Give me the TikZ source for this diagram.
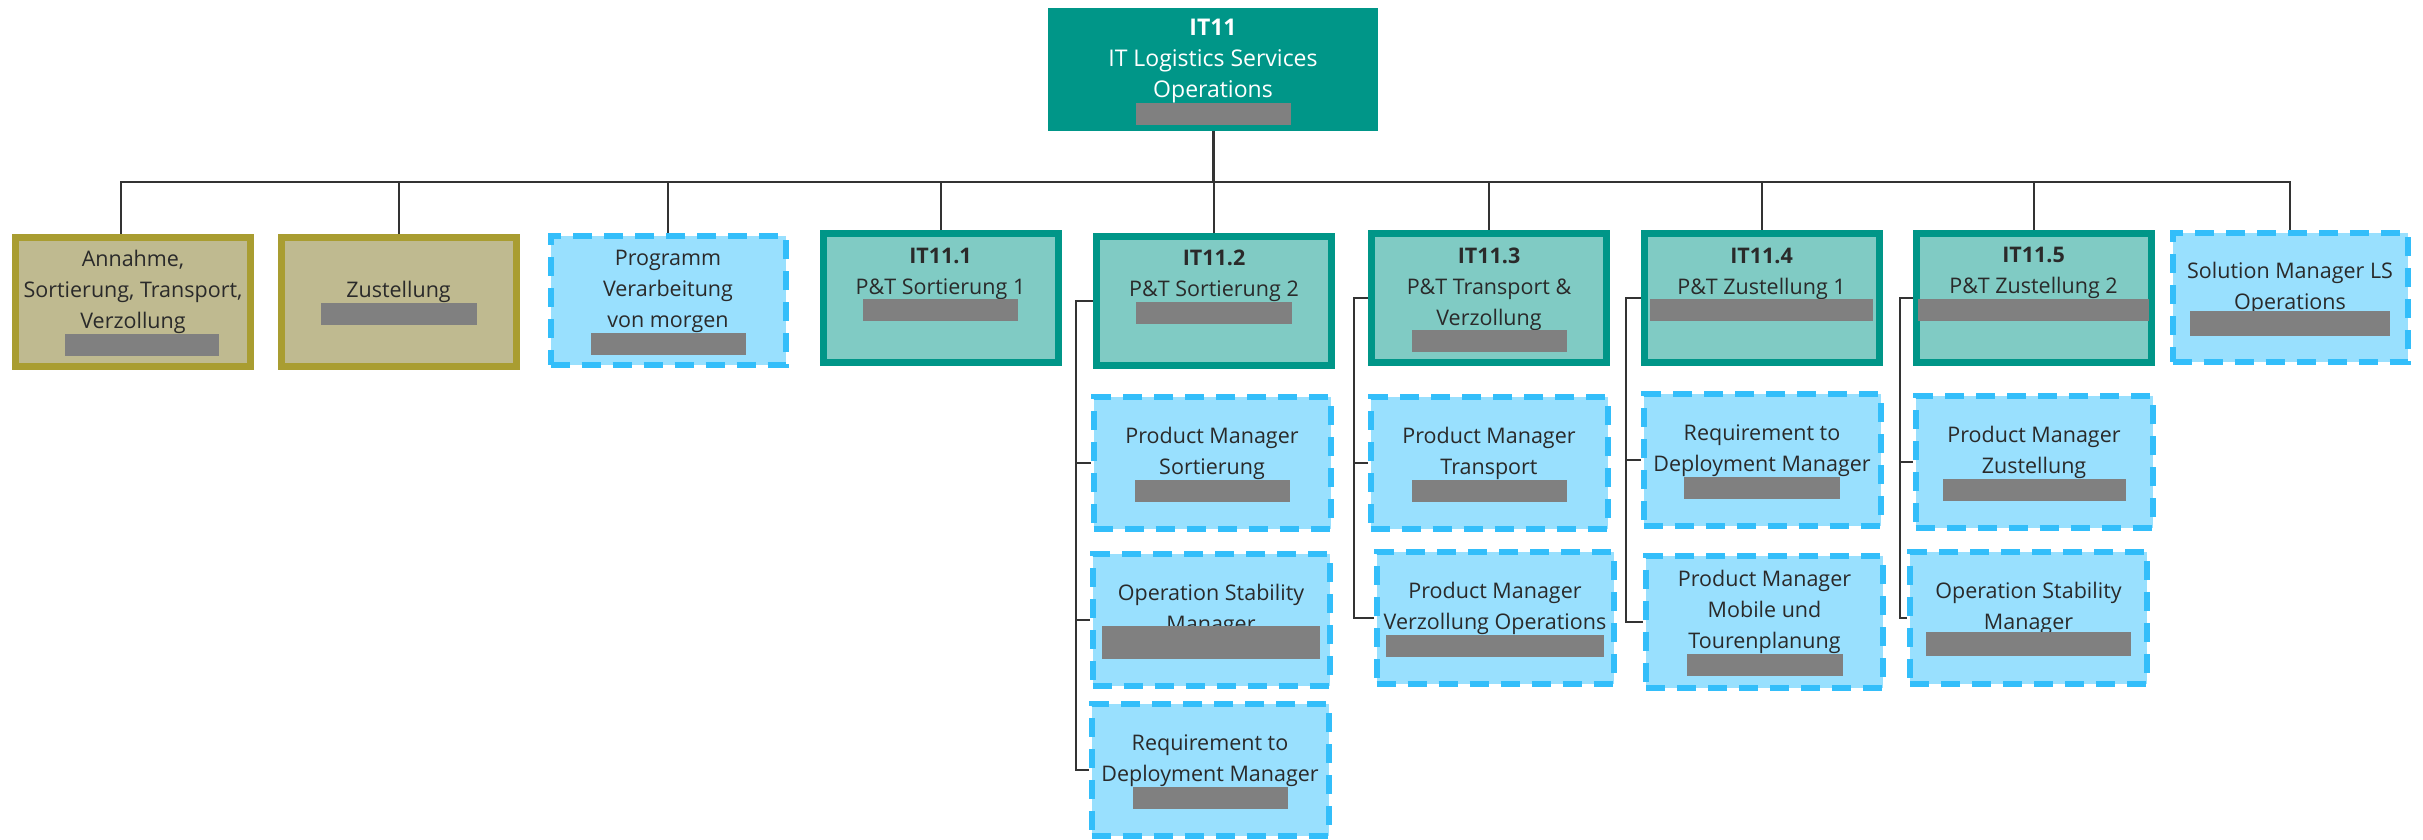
\documentclass[tikz,border=0pt]{standalone}
\usepackage{fontspec}
\setmainfont{Open Sans}
\usetikzlibrary{backgrounds}

\definecolor{tealDark}{HTML}{009688}
\definecolor{tealLight}{HTML}{80CBC4}
\definecolor{oliveEdge}{HTML}{A99D31}
\definecolor{oliveFill}{HTML}{BFBA90}
\definecolor{skyEdge}{HTML}{33BEFA}
\definecolor{skyFill}{HTML}{99E0FE}
\definecolor{barGray}{HTML}{808080}
\definecolor{ink}{HTML}{2A2A2A}

% grey bar standing in for a blanked-out name line
\newcommand\redbar[2]{\smash{\textcolor{barGray}{\rule[4pt]{#1pt}{#2pt}}}}
% extra room above the first line, so the text block sits a little lower
\newcommand\lift{\rule{0pt}{23.2pt}}
\newcommand\lifthead{\rule{0pt}{25.2pt}}

\tikzset{
  box/.style={rectangle, inner sep=0pt, minimum width=235pt, minimum height=129pt,
    align=center, font=\fontsize{21.5}{31}\selectfont, text=ink},
  head/.style={box, fill=tealDark, text=white, minimum width=330pt, minimum height=123pt,
    font=\fontsize{23}{31}\selectfont},
  unit/.style={box, draw=tealDark, fill=tealLight, line width=7pt},
  ext/.style={box, draw=oliveEdge, fill=oliveFill, line width=7pt},
  role/.style={box, draw=skyEdge, fill=skyFill, line width=6pt, dash pattern=on 19pt off 12pt},
  kid/.style={minimum width=237pt, minimum height=132pt},
  link/.style={draw=black!80, line width=2pt},
}

\begin{document}
\begin{tikzpicture}[x=1pt,y=-1pt]
\useasboundingbox (0,0) rectangle (2423,839);

% head of the department
\node[head] (top) at (1213,69.5) {\lifthead\textbf{IT11}\\IT Logistics Services\\Operations\\\redbar{155}{22}};

% first level
\node[ext]  (ann)  at (133,301.5)   {\lift Annahme,\\Sortierung, Transport,\\Verzollung\\\hspace*{18pt}\redbar{154}{22}};
\node[ext]  (zus)  at (398.5,301.5) {\lift Zustellung\\\redbar{156}{22}};
\node[role] (prog) at (668,300.5)   {\lift Programm\\Verarbeitung\\von morgen\\\redbar{155}{22}};
\node[unit] (u1)   at (940.5,298)   {\lift\textbf{IT11.1}\\P\&T Sortierung 1\\\redbar{155}{22}\\\mbox{}};
\node[unit] (u2)   at (1214,300.5)  {\lift\textbf{IT11.2}\\P\&T Sortierung 2\\\redbar{156}{22}\\\mbox{}};
\node[unit] (u3)   at (1489,298)    {\lift\textbf{IT11.3}\\P\&T Transport \&\\Verzollung\\\redbar{155}{22}};
\node[unit] (u4)   at (1761.5,298)  {\lift\textbf{IT11.4}\\P\&T Zustellung 1\\\redbar{223}{22}\\\mbox{}};
\node[unit] (u5)   at (2033.5,297.5){\lift\textbf{IT11.5}\\P\&T Zustellung 2\\\redbar{231}{22}\\\mbox{}};
\node[role] (sol)  at (2290,297.5)  {\lift Solution Manager LS\\Operations\\\redbar{200}{25}};

% roles below the units
\node[role,kid] (u2a) at (1212,463)    {\lift Product Manager\\Sortierung\\\redbar{155}{22}};
\node[role,kid] (u2b) at (1211,620)    {\lift Operation Stability\\Manager\\\redbar{218}{33}};
\node[role,kid] (u2c) at (1210,770)    {\lift Requirement to\\Deployment Manager\\\redbar{155}{22}};
\node[role,kid] (u3a) at (1489,463)    {\lift Product Manager\\Transport\\\redbar{155}{22}};
\node[role,kid] (u3b) at (1495,618)    {\lift Product Manager\\Verzollung Operations\\\redbar{218}{22}};
\node[role,kid] (u4a) at (1762,460)    {\lift Requirement to\\Deployment Manager\\\redbar{156}{22}};
\node[role,kid] (u4b) at (1764.5,621.5){\lift Product Manager\\Mobile und\\Tourenplanung\\\redbar{156}{22}};
\node[role,kid] (u5a) at (2034,462)    {\lift Product Manager\\Zustellung\\\redbar{183}{22}};
\node[role,kid] (u5b) at (2028.5,617.5){\lift Operation Stability\\Manager\\\redbar{205}{24}};

\begin{pgfonlayer}{background}
  \coordinate (bus) at (1213,182);
  \draw[link, line width=3pt] (top.south) -- (top.south |- bus);
  \draw[link] ([xshift=-12pt]ann.north) |- (bus) -| (sol.north);
  \foreach \n in {zus,prog,u1,u2,u3,u4,u5}
    \draw[link] (\n.north) -- (\n.north |- bus);

  \draw[link] (u2.west) -- ++(-17,0) coordinate (s2) |- (u2c.west);
  \draw[link] (s2) |- (u2a.west);
  \draw[link] (s2) |- (u2b.west);

  \draw[link] (u3.west) -- ++(-14,0) coordinate (s3) |- (u3b.west);
  \draw[link] (s3) |- (u3a.west);

  \draw[link] (u4.west) -- ++(-15,0) coordinate (s4) |- (u4b.west);
  \draw[link] (s4) |- (u4a.west);

  \draw[link] (u5.west) -- ++(-13,0) coordinate (s5) |- (u5b.west);
  \draw[link] (s5) |- (u5a.west);
\end{pgfonlayer}
\end{tikzpicture}
\end{document}
